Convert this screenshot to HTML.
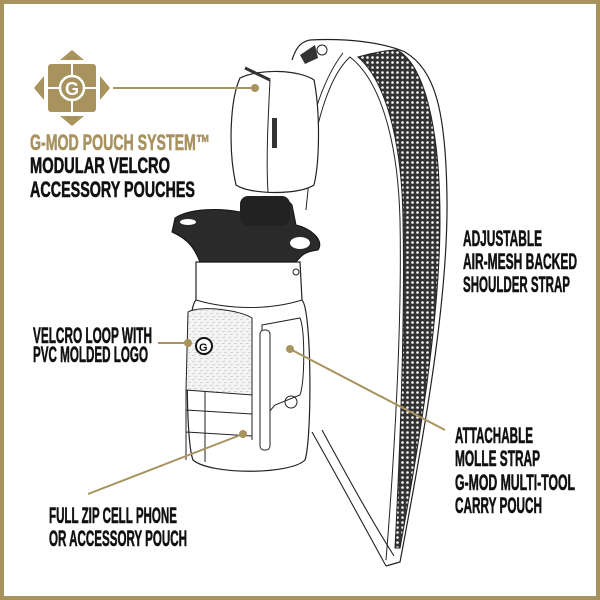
<!DOCTYPE html>
<html><head><meta charset="utf-8"><style>
html,body{margin:0;padding:0;background:#fff}
svg{display:block}
.t{font-family:"Liberation Sans Narrow","Liberation Sans",sans-serif;font-weight:bold;font-size:22px;fill:#111;stroke:#111;stroke-width:0.6}
.g{fill:#a8925e;stroke:#a8925e}
</style></head><body>
<svg width="600" height="600" viewBox="0 0 600 600" xmlns="http://www.w3.org/2000/svg">
<defs>
<pattern id="mesh" width="5" height="5" patternUnits="userSpaceOnUse">
<rect width="5" height="5" fill="#333"/><circle cx="2.5" cy="2.5" r="1.3" fill="#fff"/>
</pattern>
<pattern id="speck" width="6" height="6" patternUnits="userSpaceOnUse">
<rect width="6" height="6" fill="#f4f4f4"/><path d="M0 2 L3 1 M2 5 L5 4" stroke="#bbb" stroke-width="0.6"/>
</pattern>
</defs>
<rect x="2" y="2" width="596" height="596" fill="none" stroke="#a8925e" stroke-width="4"/>

<!-- strap -->
<path d="M292 60 C296 48 300 42 310 40 C345 38 382 42 405 52 C435 70 446 110 447 200 C448 300 425 430 400 562 L386 566" fill="none" stroke="#222" stroke-width="1.2"/>
<path d="M386 560 C395 450 402 320 400 220 C398 140 380 80 350 57 C330 75 316 120 310 170 L306 210" fill="none" stroke="#222" stroke-width="1"/>
<path d="M343 53 C322 80 306 130 300 190" fill="none" stroke="#222" stroke-width="1"/>
<path d="M358 57 C375 52 390 50 397 50 C425 65 440 130 440 220 C440 320 418 450 400 548 L395 548 C400 450 405 320 403 220 C402 140 385 80 358 57 Z" fill="url(#mesh)" stroke="#222" stroke-width="1"/>
<path d="M312 432 C338 478 362 522 386 566" fill="none" stroke="#222" stroke-width="1.1"/>
<path d="M322 430 C346 474 370 518 394 556" fill="none" stroke="#222" stroke-width="1.1"/>
<!-- top hardware -->
<path d="M300 55 L315 45 L318 58 L305 64 Z" fill="#333"/>
<circle cx="322" cy="50" r="5" fill="none" stroke="#222"/>

<!-- pouch -->
<path d="M240 78 C260 68 300 70 314 80 C320 110 320 160 314 185 C300 195 250 195 236 185 C228 150 230 100 240 78 Z" fill="#fff" stroke="#222" stroke-width="1.2"/>
<path d="M270 80 C268 120 266 160 268 192" fill="none" stroke="#222"/>
<rect x="272" y="118" width="5" height="30" fill="#333"/>
<path d="M245 68 L270 80" stroke="#333" stroke-width="3"/>

<!-- bottle body -->
<path d="M196 262 L300 262 L302 300 C312 310 312 440 305 460 C290 475 210 475 193 460 C185 440 185 310 196 300 Z" fill="#fff" stroke="#222" stroke-width="1.2"/>
<path d="M196 300 C230 310 270 310 302 300" fill="none" stroke="#222"/>
<!-- cap -->
<path d="M175 218 C190 208 220 208 240 212 L250 200 C260 195 285 195 292 205 L296 225 C310 228 325 240 318 250 C300 252 300 260 295 262 L200 262 C195 250 190 240 172 232 Z" fill="#2a2a2a" stroke="#111"/>
<rect x="240" y="196" width="50" height="30" rx="8" fill="#222"/>
<ellipse cx="300" cy="243" rx="10" ry="6" fill="#fff"/>
<ellipse cx="188" cy="222" rx="8" ry="3" fill="#fff"/>
<!-- front velcro panel -->
<path d="M188 312 C200 305 240 310 252 318 L252 395 L186 390 Z" fill="url(#speck)" stroke="#222"/>
<circle cx="204" cy="346" r="8" fill="#fff" stroke="#111" stroke-width="2"/>
<text x="199" y="351" font-family="Liberation Sans" font-weight="bold" font-size="11" fill="#111">G</text>
<path d="M186 390 L186 460 M205 392 L205 462 M186 410 L252 414 M186 432 L252 436" stroke="#222" fill="none"/>
<path d="M252 318 L252 440" stroke="#222"/>
<!-- side pouch -->
<path d="M262 325 L300 318 C305 330 305 380 300 395 L275 405 L262 420 Z" fill="#fff" stroke="#222"/>
<rect x="260" y="330" width="10" height="120" rx="4" fill="#fff" stroke="#222"/>
<circle cx="291" cy="402" r="6" fill="none" stroke="#222"/>
<circle cx="296" cy="272" r="3" fill="none" stroke="#222"/>

<!-- leaders -->
<g stroke="#a8925e" stroke-width="2" fill="#a8925e">
<line x1="113" y1="88" x2="255" y2="88"/><circle cx="255" cy="88" r="3"/>
<line x1="158" y1="343" x2="188" y2="343"/><circle cx="188" cy="343" r="3"/>
<line x1="290" y1="349" x2="445" y2="430"/><circle cx="290" cy="349" r="3"/>
<line x1="88" y1="494" x2="243" y2="434"/><circle cx="243" cy="434" r="3"/>
</g>

<!-- logo -->
<g fill="#a8925e">
<polygon points="72,50 84,60 60,60"/>
<polygon points="72,126 84,116 60,116"/>
<polygon points="34,88 44,76 44,100"/>
<polygon points="110,88 100,76 100,100"/>
<rect x="48" y="64" width="48" height="48" rx="3"/>
</g>
<path d="M72 64 V112 M48 88 H96" stroke="#fff" stroke-width="2"/>
<circle cx="72" cy="88" r="12" fill="#a8925e" stroke="#fff" stroke-width="2.5"/>
<text x="65" y="95" font-family="Liberation Sans" font-weight="bold" font-size="18" fill="#fff">G</text>

<!-- text -->
<text class="t g" x="30" y="150" textLength="180" lengthAdjust="spacingAndGlyphs">G-MOD POUCH SYSTEM™</text>
<text class="t" x="30" y="173" textLength="140" lengthAdjust="spacingAndGlyphs">MODULAR VELCRO</text>
<text class="t" x="30" y="197" textLength="165" lengthAdjust="spacingAndGlyphs">ACCESSORY POUCHES</text>
<text class="t" x="463" y="246" textLength="79" lengthAdjust="spacingAndGlyphs">ADJUSTABLE</text>
<text class="t" x="463" y="269" textLength="114" lengthAdjust="spacingAndGlyphs">AIR-MESH BACKED</text>
<text class="t" x="463" y="292" textLength="107" lengthAdjust="spacingAndGlyphs">SHOULDER STRAP</text>
<text class="t" x="33" y="343" textLength="119" lengthAdjust="spacingAndGlyphs">VELCRO LOOP WITH</text>
<text class="t" x="33" y="362" textLength="115" lengthAdjust="spacingAndGlyphs">PVC MOLDED LOGO</text>
<text class="t" x="455" y="443" textLength="78" lengthAdjust="spacingAndGlyphs">ATTACHABLE</text>
<text class="t" x="455" y="466" textLength="85" lengthAdjust="spacingAndGlyphs">MOLLE STRAP</text>
<text class="t" x="455" y="490" textLength="120" lengthAdjust="spacingAndGlyphs">G-MOD MULTI-TOOL</text>
<text class="t" x="455" y="513" textLength="87" lengthAdjust="spacingAndGlyphs">CARRY POUCH</text>
<text class="t" x="49" y="523" textLength="128" lengthAdjust="spacingAndGlyphs">FULL ZIP CELL PHONE</text>
<text class="t" x="49" y="546" textLength="138" lengthAdjust="spacingAndGlyphs">OR ACCESSORY POUCH</text>
</svg>
</body></html>
